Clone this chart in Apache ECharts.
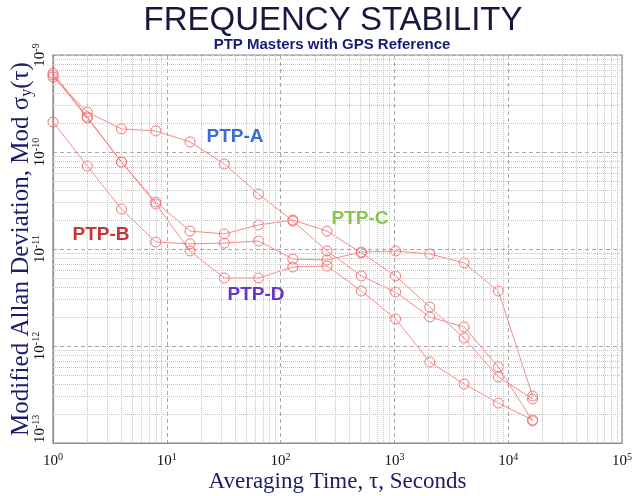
<!DOCTYPE html>
<html><head><meta charset="utf-8">
<script src="https://cdn.jsdelivr.net/npm/echarts@6/dist/echarts.min.js"></script>
<style>html,body{margin:0;padding:0;background:#fff}#c{width:644px;height:496px}</style>
</head><body><div id="c"></div>
<script>
// Averaging time tau (s)
const tau = [1,2,4,8,16,32,64,128,256,512,1024,2048,4096,8192,16384];
// Modified Allan deviation per PTP master
const ptpA = [5.93e-10,2.58e-10,1.73e-10,1.65e-10,1.27e-10,7.52e-11,3.69e-11,1.94e-11,9.54e-12,5.27e-12,3.60e-12,1.99e-12,1.57e-12,6.08e-13,1.69e-13];
const ptpB = [2.04e-10,7.17e-11,2.58e-11,1.18e-11,1.13e-11,1.15e-11,1.21e-11,7.88e-12,7.70e-12,9.31e-12,9.54e-12,8.88e-12,7.18e-12,3.69e-12,3.05e-13];
const ptpC = [6.52e-10,2.30e-10,7.88e-11,3.05e-11,1.53e-11,1.43e-11,1.77e-11,1.99e-11,1.53e-11,9.10e-12,5.27e-12,2.52e-12,1.21e-12,4.79e-13,2.84e-13];
const ptpD = [6.22e-10,2.24e-10,7.88e-11,2.91e-11,9.54e-12,5.02e-12,5.02e-12,6.52e-12,6.68e-12,3.69e-12,1.90e-12,6.84e-13,4.06e-13,2.58e-13,1.73e-13];
const seriesNames = ['PTP-A','PTP-B','PTP-C','PTP-D'];
const xTickValues = [1,10,100,1000,10000,100000];
const yTickValues = [1e-13,1e-12,1e-11,1e-10,1e-9];
const titleText = 'FREQUENCY STABILITY';
const subtitleText = 'PTP Masters with GPS Reference';
const xAxisTitle = 'Averaging Time, τ, Seconds';

const seriesData = [ptpA, ptpB, ptpC, ptpD];
const lineColor = '#f27474';
const xMin = xTickValues[0], xMax = xTickValues[xTickValues.length-1];
const yMin = yTickValues[0], yMax = yTickValues[yTickValues.length-1];

function pow10Label(v){
  const e = Math.round(Math.log10(v));
  return '{b|10}{s|' + e + '}';
}
const tickRich = {
  b: {fontFamily:'Liberation Serif', fontSize:15, color:'#111', lineHeight:17, verticalAlign:'bottom'},
  s: {fontFamily:'Liberation Serif', fontSize:10, color:'#111', lineHeight:17, verticalAlign:'top'}
};

// minor (2..9 x 10^k) grid lines, drawn in data coordinates
const minorMarks = [];
for (let k = 0; k < 5; k++) for (let m = 2; m < 10; m++) {
  const v = m * Math.pow(10, k);
  minorMarks.push([{coord:[v, yMin]}, {coord:[v, yMax]}]);
}
for (let k = -13; k < -9; k++) for (let m = 2; m < 10; m++) {
  const v = parseFloat((m * Math.pow(10, k)).toPrecision(3));
  minorMarks.push([{coord:[xMin, v]}, {coord:[xMax, v]}]);
}

const chart = echarts.init(document.getElementById('c'), null, {renderer:'canvas'});
const series = [{
  type:'line', data:[[xMin, yMin]], silent:true, z:1, symbol:'none', lineStyle:{opacity:0},
  markLine:{silent:true, symbol:['none','none'], animation:false, label:{show:false},
    lineStyle:{type:'dotted', color:'#c4c4c4', width:1}, data:minorMarks}
}];
seriesData.forEach((arr, i) => {
  series.push({
    name: seriesNames[i], type:'line', z:3,
    data: tau.map((t, j) => [t, arr[j]]),
    symbol:'circle', symbolSize:10, showSymbol:true,
    itemStyle:{color:'rgba(255,255,255,0)', borderColor:lineColor, borderWidth:1},
    lineStyle:{color:lineColor, width:1, opacity:0.85},
    animation:false
  });
});

chart.setOption({
  backgroundColor:'#fff',
  animation:false,
  grid:{left:53, right:22, top:55, bottom:53, containLabel:false, outerBoundsMode:'none',
    show:true, borderColor:'#8c8c8c', borderWidth:1.2, backgroundColor:'transparent'},
  xAxis:{
    type:'log', logBase:10, min:xMin, max:xMax, interval:1,
    axisLine:{show:true, lineStyle:{color:'#8c8c8c', width:1.2}},
    axisTick:{show:false},
    splitLine:{show:true, lineStyle:{type:[4,3], color:'#a8a8a8', width:1}},
    axisLabel:{formatter:pow10Label, rich:tickRich, margin:9, showMinLabel:true, showMaxLabel:true},
    name:xAxisTitle, nameLocation:'middle', nameGap:27, nameMoveOverlap:false,
    nameTextStyle:{fontFamily:'Liberation Serif', fontSize:23, color:'#1c1c6a'}
  },
  yAxis:{
    type:'log', logBase:10, min:yMin, max:yMax, interval:1,
    axisLine:{show:true, lineStyle:{color:'#8c8c8c', width:1.2}},
    axisTick:{show:false},
    splitLine:{show:true, lineStyle:{type:[4,3], color:'#a8a8a8', width:1}},
    axisLabel:{formatter:pow10Label, rich:tickRich, rotate:90, margin:5, showMinLabel:true, showMaxLabel:true, alignMinLabel:'left'},
    name:'{t|Modified Allan Deviation, Mod σ}{u|y}{t|(τ)}', nameLocation:'middle', nameRotate:90, nameGap:18, nameMoveOverlap:false,
    nameTextStyle:{rich:{
      t:{fontFamily:'Liberation Serif', fontSize:25, color:'#1c1c6a'},
      u:{fontFamily:'Liberation Serif', fontSize:16, color:'#1c1c6a', padding:[11,0,0,0]}
    }}
  },
  series: series,
  graphic:[
    {type:'text', x:333, y:21, style:{text:titleText, font:'33px "Liberation Sans"', fill:'#17173f', textAlign:'center', textVerticalAlign:'middle'}},
    {type:'text', x:332, y:45, style:{text:subtitleText, font:'bold 15px "Liberation Sans"', fill:'#1a1a78', textAlign:'center', textVerticalAlign:'middle'}},
    {type:'text', x:235, y:137, z:10, style:{text:seriesNames[0], font:'bold 19px "Liberation Sans"', fill:'#3a6fd2', textAlign:'center', textVerticalAlign:'middle'}},
    {type:'text', x:101, y:235, z:10, style:{text:seriesNames[1], font:'bold 19px "Liberation Sans"', fill:'#c83434', textAlign:'center', textVerticalAlign:'middle'}},
    {type:'text', x:360, y:219, z:10, style:{text:seriesNames[2], font:'bold 19px "Liberation Sans"', fill:'#8cc54e', textAlign:'center', textVerticalAlign:'middle'}},
    {type:'text', x:256, y:295, z:10, style:{text:seriesNames[3], font:'bold 19px "Liberation Sans"', fill:'#6637cc', textAlign:'center', textVerticalAlign:'middle'}}
  ]
});
</script></body></html>
